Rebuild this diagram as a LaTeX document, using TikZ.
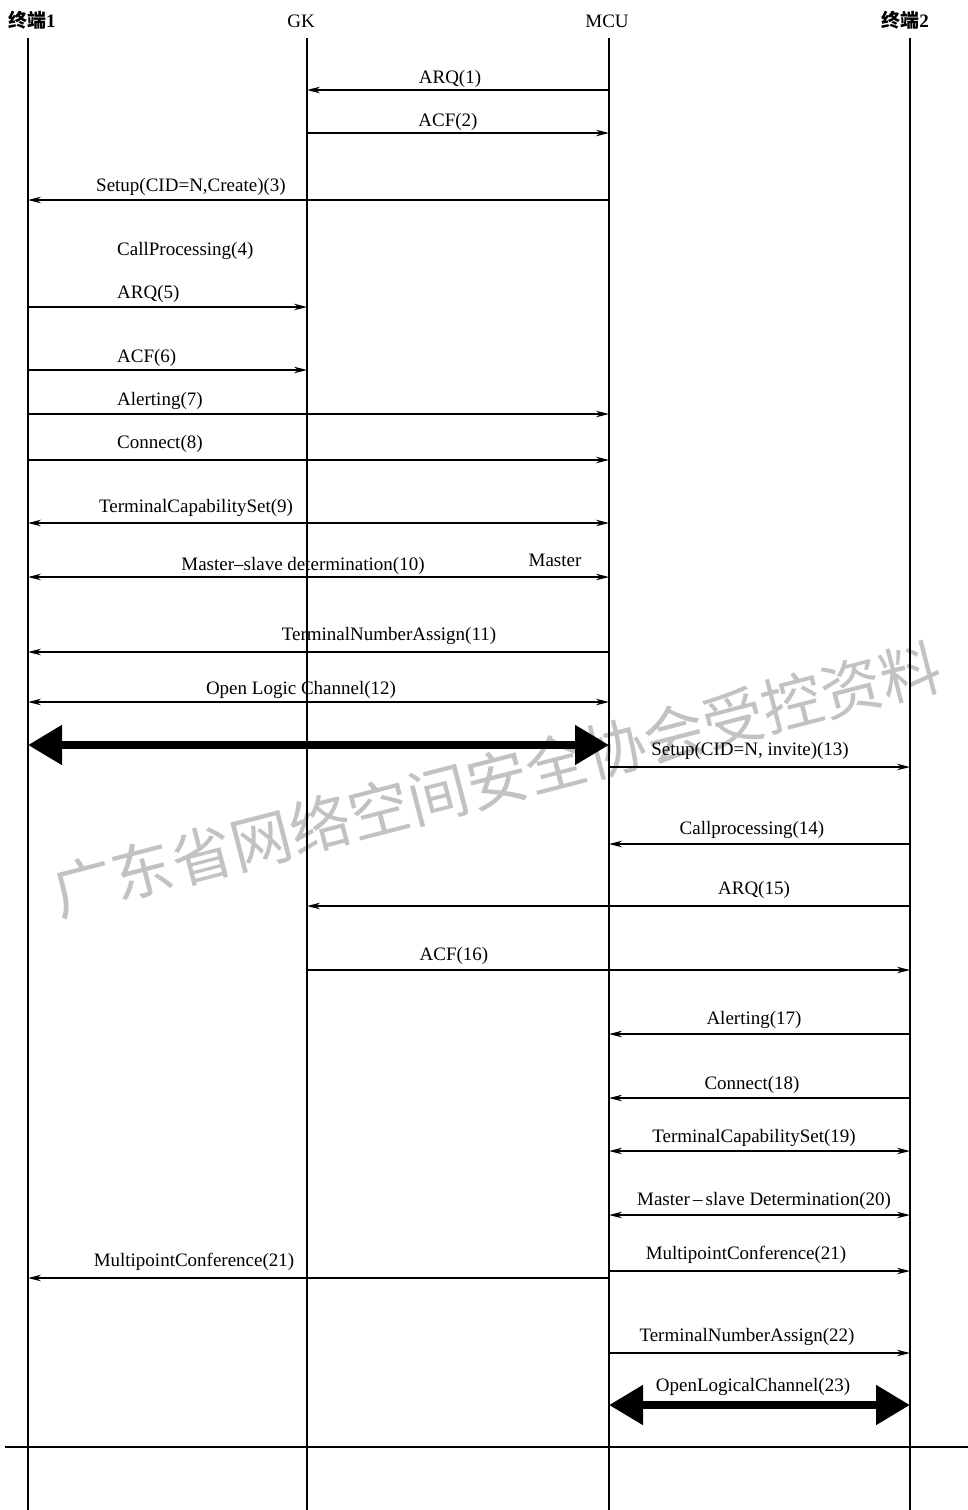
\documentclass[tikz,border=0pt]{standalone}
\usepackage{fontspec}
\setmainfont{Liberation Serif}
\newfontfamily\cjk{Noto Sans CJK SC}
\usetikzlibrary{arrows.meta}
\begin{document}
\begin{tikzpicture}[x=1pt,y=-1pt,
  life/.style={line width=1.8pt},
  msg/.style={line width=1.4pt,-{Stealth[length=13pt,width=6.5pt]}},
  msgb/.style={line width=1.4pt,{Stealth[length=13pt,width=6.5pt]}-{Stealth[length=13pt,width=6.5pt]}},
  bigarrow/.style={line width=8pt,{Triangle[length=34pt,width=38pt]}-{Triangle[length=34pt,width=38pt]}},
  lbl/.style={font=\fontsize{19}{22}\selectfont, inner sep=0pt, anchor=base},
  lbll/.style={lbl, anchor=base west},
  hdr/.style={font=\fontsize{19}{22}\selectfont, inner sep=0pt, anchor=base},
  wmark/.style={text=black!24, rotate=14.5, inner sep=0pt, font=\cjk\fontsize{61}{61}\selectfont}]
\useasboundingbox (0,0) rectangle (968,1510);
\fill[white] (0,0) rectangle (968,1510);

% watermark
\node[wmark] (wm) at (497,779) {广东省网络空间安全协会受控资料};

% headers
\node[hdr] (h1) at (32,27) {{\cjk\bfseries 终端}\textbf{1}};
\node[hdr] (h2) at (301,27) {GK};
\node[hdr] (h3) at (607,27) {MCU};
\node[hdr] (h4) at (905,27) {{\cjk\bfseries 终端}\textbf{2}};

% lifelines
\coordinate (t1) at (28,38);  \coordinate (t1b) at (28,1510);
\coordinate (gk) at (307,38); \coordinate (gkb) at (307,1510);
\coordinate (mcu) at (609,38); \coordinate (mcub) at (609,1510);
\coordinate (t2) at (910,38); \coordinate (t2b) at (910,1510);
\draw[life] (t1) -- (t1b);
\draw[life] (gk) -- (gkb);
\draw[life] (mcu) -- (mcub);
\draw[life] (t2) -- (t2b);

% messages
\draw[msg] (mcu |- 0,90) -- (gk |- 0,90);
\node[lbl] (l1) at (450,83) {ARQ(1)};
\draw[msg] (gk |- 0,133) -- (mcu |- 0,133);
\node[lbl] (l2) at (448,126) {ACF(2)};
\draw[msg] (mcu |- 0,200) -- (t1 |- 0,200);
\node[lbl] (l3) at (191,191) {Setup(CID=N,Create)(3)};
\node[lbll] (l4) at (117,255) {CallProcessing(4)};
\draw[msg] (t1 |- 0,307) -- (gk |- 0,307);
\node[lbll] (l5) at (117,298) {ARQ(5)};
\draw[msg] (t1 |- 0,370) -- (gk |- 0,370);
\node[lbll] (l6) at (117,362) {ACF(6)};
\draw[msg] (t1 |- 0,414) -- (mcu |- 0,414);
\node[lbll] (l7) at (117,405) {Alerting(7)};
\draw[msg] (t1 |- 0,460) -- (mcu |- 0,460);
\node[lbll] (l8) at (117,448) {Connect(8)};
\draw[msgb] (t1 |- 0,523) -- (mcu |- 0,523);
\node[lbl] (l9) at (196,512) {TerminalCapabilitySet(9)};
\draw[msgb] (t1 |- 0,577) -- (mcu |- 0,577);
\node[lbl] (l10) at (303,570) {Master--slave determination(10)};
\node[lbl] (lm) at (555,566) {Master};
\draw[msg] (mcu |- 0,652) -- (t1 |- 0,652);
\node[lbl] (l11) at (389,640) {TerminalNumberAssign(11)};
\draw[msgb] (t1 |- 0,702) -- (mcu |- 0,702);
\node[lbl] (l12) at (301,694) {Open Logic Channel(12)};
\draw[bigarrow] (t1 |- 0,745) -- (mcu |- 0,745);
\draw[msg] (mcu |- 0,767) -- (t2 |- 0,767);
\node[lbl] (l13) at (750,755) {Setup(CID=N, invite)(13)};
\draw[msg] (t2 |- 0,844) -- (mcu |- 0,844);
\node[lbl] (l14) at (752,834) {Callprocessing(14)};
\draw[msg] (t2 |- 0,906) -- (gk |- 0,906);
\node[lbl] (l15) at (754,894) {ARQ(15)};
\draw[msg] (gk |- 0,970) -- (t2 |- 0,970);
\node[lbl] (l16) at (454,960) {ACF(16)};
\draw[msg] (t2 |- 0,1034) -- (mcu |- 0,1034);
\node[lbl] (l17) at (754,1024) {Alerting(17)};
\draw[msg] (t2 |- 0,1098) -- (mcu |- 0,1098);
\node[lbl] (l18) at (752,1089) {Connect(18)};
\draw[msgb] (mcu |- 0,1151) -- (t2 |- 0,1151);
\node[lbl] (l19) at (754,1142) {TerminalCapabilitySet(19)};
\draw[msgb] (mcu |- 0,1215) -- (t2 |- 0,1215);
\node[lbl] (l20) at (764,1205) {Master\,--\,slave Determination(20)};
\draw[msg] (mcu |- 0,1278) -- (t1 |- 0,1278);
\node[lbl] (l21a) at (194,1266) {MultipointConference(21)};
\draw[msg] (mcu |- 0,1271) -- (t2 |- 0,1271);
\node[lbl] (l21b) at (746,1259) {MultipointConference(21)};
\draw[msg] (mcu |- 0,1353) -- (t2 |- 0,1353);
\node[lbl] (l22) at (747,1341) {TerminalNumberAssign(22)};
\draw[bigarrow] (mcu |- 0,1405) -- (t2 |- 0,1405);
\node[lbl] (l23) at (753,1391) {OpenLogicalChannel(23)};

% separator
\coordinate (sepl) at (5,1447);
\coordinate (sepr) at (968,1447);
\draw[line width=1.8pt] (sepl) -- (sepr);
\end{tikzpicture}
\end{document}
